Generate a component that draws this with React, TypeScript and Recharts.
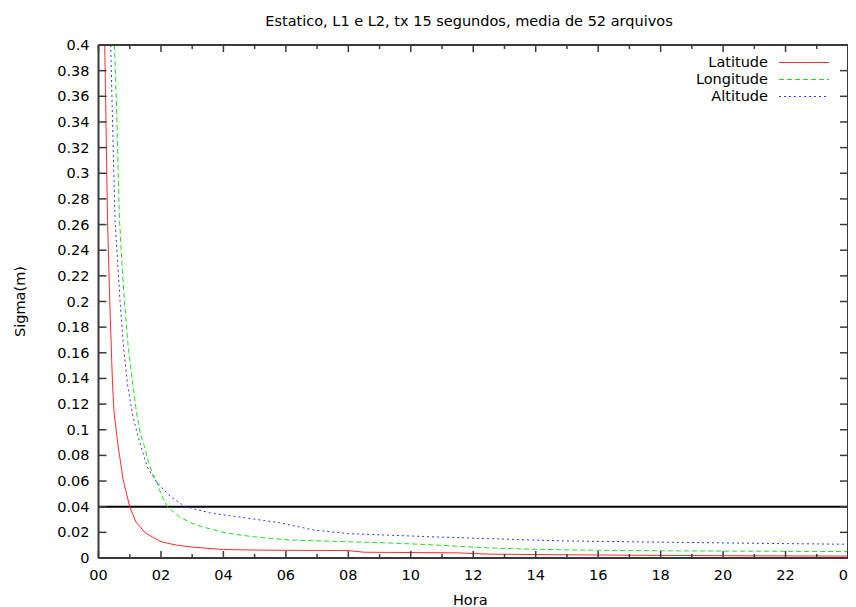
import React from 'react';
import { LineChart, Line, XAxis, YAxis, ReferenceLine, Legend, Label } from 'recharts';

const FONT = '"DejaVu Sans", Verdana, sans-serif';
const FS = 14.5;
const TITLE = 'Estatico, L1 e L2, tx 15 segundos, media de 52 arquivos';

const hourTicks = [0, 1, 2, 3, 4, 5, 6, 7, 8, 9, 10, 11, 12, 13, 14, 15, 16, 17, 18, 19, 20, 21, 22, 23, 24];
const hourLabels = ['00', '02', '04', '06', '08', '10', '12', '14', '16', '18', '20', '22', '00'];
const sigmaTicks = [0, 0.02, 0.04, 0.06, 0.08, 0.1, 0.12, 0.14, 0.16, 0.18, 0.2, 0.22, 0.24, 0.26, 0.28, 0.3, 0.32, 0.34, 0.36, 0.38, 0.4];
const threshold = 0.04;

const latHours = [0.2, 0.29, 0.36, 0.45, 0.5, 0.63, 0.79, 1.0, 1.2, 1.5, 2.0, 2.5, 3.0, 4.0, 5.0, 6.0, 8.0, 8.5, 11.5, 12.5, 15, 18, 21, 24];
const latSigma = [0.4, 0.263, 0.2, 0.135, 0.113, 0.087, 0.061, 0.04, 0.028, 0.0195, 0.0127, 0.01, 0.0085, 0.0066, 0.0062, 0.006, 0.0058, 0.0045, 0.004, 0.003, 0.0025, 0.002, 0.0017, 0.0015];

const lonHours = [0.51, 0.58, 0.67, 0.75, 0.83, 0.95, 1.08, 1.22, 1.34, 1.47, 1.6, 1.73, 1.86, 2.0, 2.2, 2.6, 3.0, 3.3, 4.0, 4.5, 5.0, 6.1, 7.5, 9, 10.5, 12, 12.8, 14, 15.4, 17, 19, 21, 24];
const lonSigma = [0.4, 0.35, 0.265, 0.23, 0.2, 0.165, 0.139, 0.113, 0.097, 0.087, 0.075, 0.066, 0.06, 0.05, 0.04, 0.032, 0.027, 0.0244, 0.02, 0.018, 0.0165, 0.014, 0.013, 0.012, 0.0105, 0.0085, 0.0076, 0.0068, 0.0062, 0.0058, 0.0055, 0.0053, 0.005];

const altHours = [0.39, 0.46, 0.53, 0.69, 0.8, 0.93, 1.08, 1.24, 1.36, 1.56, 1.81, 2.02, 2.3, 2.78, 3.6, 4.5, 5.8, 6.9, 8.0, 10.6, 12.2, 14.9, 18.6, 21, 24];
const altSigma = [0.4, 0.33, 0.263, 0.2, 0.165, 0.135, 0.113, 0.097, 0.087, 0.071, 0.061, 0.055, 0.048, 0.04, 0.035, 0.032, 0.0275, 0.0218, 0.019, 0.0166, 0.0153, 0.0133, 0.0122, 0.0115, 0.0107];

const toData = (hours: number[], sigma: number[]) => hours.map((h, i) => ({ hora: h, sigma: sigma[i] }));

const series = [
  { name: 'Latitude', color: '#ff2a2a', dash: undefined as string | undefined, data: toData(latHours, latSigma) },
  { name: 'Longitude', color: '#1ee01e', dash: '5 3', data: toData(lonHours, lonSigma) },
  { name: 'Altitude', color: '#3434ff', dash: '2 3', data: toData(altHours, altSigma) },
];

const AXIS = '#3a3a3a';

const BottomTick = (props: any) => {
  const { x, y, payload } = props;
  const h = payload.value as number;
  const major = h % 2 === 0;
  return (
    <g>
      <line x1={x} x2={x} y1={y} y2={y - (major ? 7 : 4)} stroke={AXIS} strokeWidth={1.5} />
      {major && (
        <text x={x} y={y + 22} textAnchor="middle" fontSize={FS} fontFamily={FONT} fill="#000">
          {hourLabels[h / 2]}
        </text>
      )}
    </g>
  );
};

const TopTick = (props: any) => {
  const { x, y, payload } = props;
  const major = (payload.value as number) % 2 === 0;
  return <line x1={x} x2={x} y1={y} y2={y + (major ? 7 : 4)} stroke={AXIS} strokeWidth={1.5} />;
};

const fmtSigma = (v: number) => String(Number(v.toFixed(2)));

const LeftTick = (props: any) => {
  const { x, y, payload } = props;
  return (
    <g>
      <line x1={x} x2={x + 8} y1={y} y2={y} stroke={AXIS} strokeWidth={1.5} />
      <text x={x - 9} y={y + 5} textAnchor="end" fontSize={FS} fontFamily={FONT} fill="#000">
        {fmtSigma(payload.value)}
      </text>
    </g>
  );
};

const RightTick = (props: any) => {
  const { x, y } = props;
  return <line x1={x} x2={x - 8} y1={y} y2={y} stroke={AXIS} strokeWidth={1.5} />;
};

const LegendBox = () => (
  <div style={{ fontFamily: FONT, fontSize: FS, color: '#000' }}>
    {series.map((s) => (
      <div key={s.name} style={{ display: 'flex', alignItems: 'center', height: 17 }}>
        <span style={{ width: 120, textAlign: 'right', lineHeight: '17px', whiteSpace: 'nowrap' }}>{s.name}</span>
        <svg width={61} height={17} style={{ display: 'block' }}>
          <line x1={11} x2={61} y1={8.5} y2={8.5} stroke={s.color} strokeWidth={1} strokeDasharray={s.dash} />
        </svg>
      </div>
    ))}
  </div>
);

export default function App() {
  return (
    <LineChart width={848} height={599} margin={{ top: 36, right: 7, bottom: 0, left: 0 }}>
      <XAxis
        xAxisId="bottom"
        dataKey="hora"
        type="number"
        domain={[0, 24]}
        ticks={hourTicks}
        interval={0}
        allowDataOverflow
        height={49}
        tickSize={0}
        tickMargin={0}
        tick={<BottomTick />}
        axisLine={{ stroke: AXIS, strokeWidth: 2 }}
        tickLine={false}
      >
        <Label
          content={(p: any) => {
            const vb = p.viewBox || { x: 90.5, width: 749.5 };
            return (
              <text x={vb.x + vb.width / 2 - 3} y={597} textAnchor="middle" fontSize={FS} fontFamily={FONT} fill="#000">
                Hora
              </text>
            );
          }}
        />
      </XAxis>
      <XAxis
        xAxisId="top"
        orientation="top"
        dataKey="hora"
        type="number"
        domain={[0, 24]}
        ticks={hourTicks}
        interval={0}
        allowDataOverflow
        height={1}
        tickSize={0}
        tickMargin={0}
        tick={<TopTick />}
        axisLine={{ stroke: AXIS, strokeWidth: 2 }}
        tickLine={false}
      />
      <YAxis
        yAxisId="left"
        type="number"
        domain={[0, 0.4]}
        ticks={sigmaTicks}
        interval={0}
        allowDataOverflow
        width={90.5}
        tickSize={0}
        tickMargin={0}
        tick={<LeftTick />}
        axisLine={{ stroke: AXIS, strokeWidth: 2 }}
        tickLine={false}
      >
        <Label
          content={(p: any) => {
            const vb = p.viewBox || { y: 37, height: 513 };
            const cy = vb.y + vb.height / 2;
            return (
              <g>
                <text
                  x={12}
                  y={cy}
                  transform={`rotate(-90 12 ${cy})`}
                  textAnchor="middle"
                  dominantBaseline="central"
                  fontSize={FS}
                  fontFamily={FONT}
                  fill="#000"
                >
                  Sigma(m)
                </text>
                <text x={461} y={17.5} textAnchor="middle" fontSize={FS} fontFamily={FONT} fill="#000">
                  {TITLE}
                </text>
              </g>
            );
          }}
        />
      </YAxis>
      <YAxis
        yAxisId="right"
        orientation="right"
        type="number"
        domain={[0, 0.4]}
        ticks={sigmaTicks}
        interval={0}
        allowDataOverflow
        width={1}
        tickSize={0}
        tickMargin={0}
        tick={<RightTick />}
        axisLine={{ stroke: AXIS, strokeWidth: 2 }}
        tickLine={false}
      />
      <ReferenceLine xAxisId="bottom" yAxisId="left" y={threshold} stroke="#000" strokeWidth={2} />
      {series.map((s) => (
        <Line
          key={s.name}
          xAxisId="bottom"
          yAxisId="left"
          data={s.data}
          dataKey="sigma"
          name={s.name}
          type="linear"
          stroke={s.color}
          strokeWidth={1}
          strokeDasharray={s.dash}
          dot={false}
          activeDot={false}
          isAnimationActive={false}
        />
      ))}
      <Legend
        layout="horizontal"
        align="center"
        verticalAlign="middle"
        wrapperStyle={{ top: 46, left: 640, width: 200, height: 51 }}
        content={() => <LegendBox />}
      />
    </LineChart>
  );
}
